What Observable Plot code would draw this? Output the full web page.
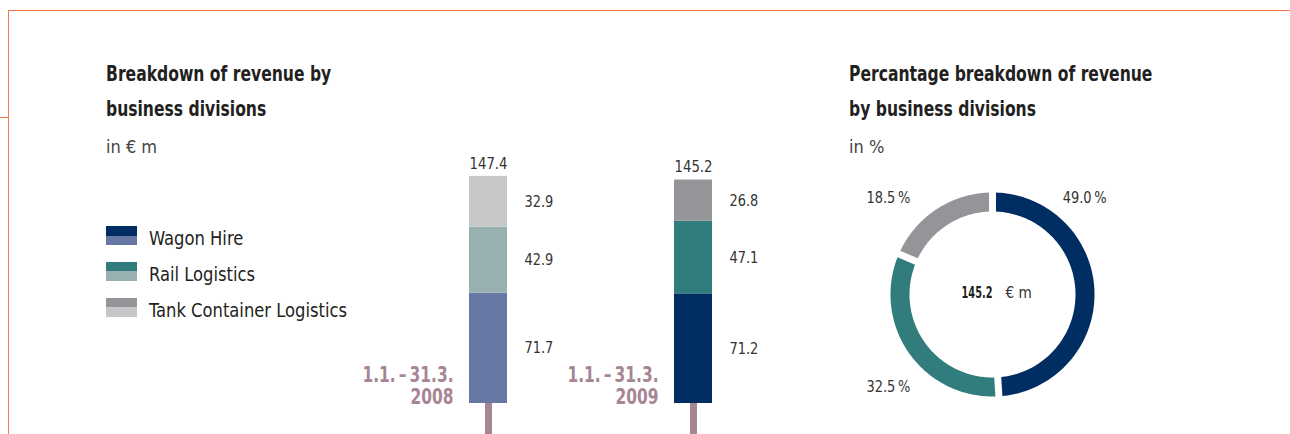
<!DOCTYPE html>
<html><head><meta charset="utf-8">
<script src="https://cdn.jsdelivr.net/npm/d3@7"></script>
<script src="https://cdn.jsdelivr.net/npm/@observablehq/plot@0.6"></script>
<style>
body{margin:0;background:#fff;}
#page{position:relative;width:1290px;height:434px;overflow:hidden;font-family:"Liberation Sans Narrow","DejaVu Sans Condensed",Roboto,sans-serif;color:#231f20;}
.abs{position:absolute;}
.rule{position:absolute;background:#f47b4d;}
.title{position:absolute;font-size:21px;font-weight:bold;line-height:35px;white-space:nowrap;color:#231f20;transform:scaleX(0.825);transform-origin:0 0;}
.sub{position:absolute;font-size:18px;line-height:18px;color:#444;white-space:nowrap;}
.sw{position:absolute;left:106px;width:31px;height:19px;}
.lt{position:absolute;left:149px;font-size:20px;line-height:20px;white-space:nowrap;color:#231f20;transform:scaleX(0.91);transform-origin:0 0;}
</style></head>
<body><div id="page">
<div class="rule" style="left:8px;top:10px;width:1282px;height:1px"></div>
<div class="rule" style="left:8px;top:10px;width:1px;height:424px"></div>
<div class="rule" style="left:0;top:117px;width:8px;height:1px"></div>
<div class="title" style="left:106px;top:57px">Breakdown of revenue by<br>business divisions</div>
<div class="sub" style="left:106px;top:138px">in € m</div>
<div class="title" style="left:849px;top:57px">Percantage breakdown of revenue<br>by business divisions</div>
<div class="sub" style="left:849px;top:138px">in %</div>
<div id="legend"></div>
<div id="bars" class="abs" style="left:350px;top:140px"></div>
<div id="donut" class="abs" style="left:862px;top:184px"></div>
</div>
<script>
// ---- data ----
const years = ["2008", "2009"];
const periodLabels = ["1.1.\u2009–\u200931.3.\n2008", "1.1.\u2009–\u200931.3.\n2009"];
const divisions = ["Wagon Hire", "Rail Logistics", "Tank Container Logistics"];
const revenue2008 = [71.7, 42.9, 32.9];
const revenue2009 = [71.2, 47.1, 26.8];
const totals = [147.4, 145.2];
const share2009 = [49.0, 32.5, 18.5];
const donutCenterValue = "145.2";
const donutCenterUnit = "€ m";

// ---- styles ----
const lightColors = ["#6878a4", "#98b0b0", "#c6c7c9"];
const darkColors = ["#002d62", "#317c7d", "#939598"];
const yearColors = {"2008": lightColors, "2009": darkColors};
const stemColor = "#a68594";
const textColor = "#333";
const font = `"Liberation Sans Narrow","DejaVu Sans Condensed",Roboto,sans-serif`;

// horizontally condense the texts of the n-th text mark (the reference uses a condensed face)
function condense(svg, n, k) {
  const g = svg.querySelectorAll('g[aria-label="text"]')[n];
  if (!g) return;
  g.querySelectorAll("text").forEach(t => {
    const tr = t.getAttribute("transform") || "";
    t.setAttribute("transform", `${tr} scale(${k},1)`);
  });
}

// ---- legend ----
const legend = document.getElementById("legend");
divisions.forEach((d, i) => {
  const top = 226 + i * 36;
  const sw = document.createElement("div");
  sw.className = "sw";
  sw.style.top = top + "px";
  sw.style.background = `linear-gradient(${darkColors[i]} 0 50%, ${lightColors[i]} 50% 100%)`;
  legend.appendChild(sw);
  const t = document.createElement("div");
  t.className = "lt";
  t.style.top = (top + 2) + "px";
  t.textContent = d;
  legend.appendChild(t);
});

// ---- bar chart ----
const rows = [];
years.forEach((y, yi) => {
  const vals = yi === 0 ? revenue2008 : revenue2009;
  divisions.forEach((d, i) => rows.push({year: y, div: d, value: vals[i], color: yearColors[y][i]}));
});
const totalRows = years.map((y, i) => ({year: y, total: totals[i], label: periodLabels[i]}));
const fmt = d3.format(".1f");

const bars = Plot.plot({
  width: 440, height: 294,
  marginTop: 32, marginBottom: 31, marginLeft: 57.5, marginRight: 16.5,
  style: {fontFamily: font, background: "transparent", overflow: "visible"},
  x: {domain: years, paddingInner: 0.8146, paddingOuter: 0.3, round: false, axis: null},
  y: {domain: [0, 150], axis: null},
  color: {type: "identity"},
  marks: [
    Plot.ruleX(totalRows, {x: "year", y1: 0, y2: 0, stroke: stemColor, strokeWidth: 7, insetBottom: -31}),
    Plot.barY(rows, Plot.stackY({x: "year", y: "value", fill: "color", order: null})),
    Plot.text(rows, Plot.stackY({x: "year", y: "value", text: d => fmt(d.value), order: null,
      textAnchor: "start", dx: 36, fontSize: 16, fill: textColor})),
    Plot.text(totalRows, {x: "year", y: "total", text: d => fmt(d.total), lineAnchor: "bottom", dy: -8,
      fontSize: 16, fill: textColor}),
    Plot.text(totalRows, {x: "year", y: 0, text: "label", lineAnchor: "bottom", textAnchor: "end", dx: -35, dy: 0,
      fontSize: 22, lineHeight: 1, fill: stemColor, fontWeight: "bold"})
  ]
});
condense(bars, 0, 0.9);
condense(bars, 1, 0.92);
condense(bars, 2, 0.78);
document.getElementById("bars").appendChild(bars);

// ---- donut ----
const R0 = 83, R1 = 102, GAP = 7, N = 120;
const pie = d3.pie().sort(null).value(d => d)(share2009);
const arcPts = [];
pie.forEach((s, i) => {
  const dO = Math.asin(GAP / 2 / R1), dI = Math.asin(GAP / 2 / R0);
  for (let k = 0; k <= N; k++) {
    const a = s.startAngle + dO + (s.endAngle - s.startAngle - 2 * dO) * k / N;
    arcPts.push({div: divisions[i], color: darkColors[i], x: R1 * Math.sin(a), y: R1 * Math.cos(a)});
  }
  for (let k = N; k >= 0; k--) {
    const a = s.startAngle + dI + (s.endAngle - s.startAngle - 2 * dI) * k / N;
    arcPts.push({div: divisions[i], color: darkColors[i], x: R0 * Math.sin(a), y: R0 * Math.cos(a)});
  }
});
const pct = d => fmt(d) + "\u2009%";
const donut = Plot.plot({
  width: 260, height: 220, margin: 0,
  style: {fontFamily: font, background: "transparent", overflow: "visible"},
  x: {domain: [-130, 130], axis: null},
  y: {domain: [-110, 110], axis: null},
  color: {type: "identity"},
  marks: [
    Plot.line(arcPts, {x: "x", y: "y", z: "div", fill: "color", stroke: "none"}),
    Plot.text([share2009[0]], {frameAnchor: "top-right", text: pct, textAnchor: "end", lineAnchor: "middle", dx: -16, dy: 13, fontSize: 16, fill: textColor}),
    Plot.text([share2009[1]], {frameAnchor: "bottom-left", text: pct, textAnchor: "start", lineAnchor: "middle", dx: 4, dy: -18, fontSize: 16, fill: textColor}),
    Plot.text([share2009[2]], {frameAnchor: "top-left", text: pct, textAnchor: "start", lineAnchor: "middle", dx: 4, dy: 13, fontSize: 16, fill: textColor}),
    Plot.text([donutCenterValue], {frameAnchor: "middle", text: d => d, textAnchor: "end", lineAnchor: "middle", dx: 0, dy: -2, fontSize: 16, fontWeight: "bold", fill: "#231f20"}),
    Plot.text([donutCenterUnit], {frameAnchor: "middle", text: d => d, textAnchor: "start", lineAnchor: "middle", dx: 13, dy: -2, fontSize: 16, fill: textColor})
  ]
});
condense(donut, 0, 0.9);
condense(donut, 1, 0.9);
condense(donut, 2, 0.9);
condense(donut, 3, 0.68);
condense(donut, 4, 0.95);
document.getElementById("donut").appendChild(donut);
</script>
</body></html>
